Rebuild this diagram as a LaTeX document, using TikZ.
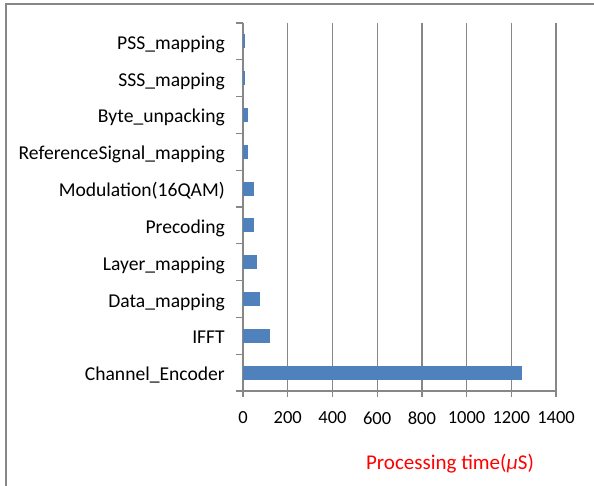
\documentclass[tikz,border=0pt]{standalone}
\usepackage{fontspec}
\setmainfont{Carlito}
\definecolor{barblue}{HTML}{4F81BD}
\definecolor{gridgray}{HTML}{878787}
\tikzset{
  catlabel/.style={anchor=base east,inner sep=0pt,font=\fontsize{19.6}{21}\selectfont},
  ticklabel/.style={anchor=center,inner sep=0pt,font=\fontsize{18.5}{20}\selectfont},
  gridline/.style={draw=gridgray,line width=1.3pt},
  bar/.style={fill=barblue}
}
\begin{document}
\begin{tikzpicture}[x=1pt,y=-1pt]
  \useasboundingbox (0,0) rectangle (594,486);
  % frame
  \draw[gridgray,line width=1.2pt] (594,4) -- (6,4) -- (6,486);

  % categories, top to bottom
  \node[catlabel] (pss) at (225,49.4) {PSS\_mapping};
  \node[catlabel] (sss) at (225,86.2) {SSS\_mapping};
  \node[catlabel] (byte) at (225,123) {Byte\_unpacking};
  \node[catlabel] (refsig) at (225,159.8) {ReferenceSignal\_mapping};
  \node[catlabel] (modul) at (225,196.6) {Modulation(16QAM)};
  \node[catlabel] (precod) at (225,233.4) {Precoding};
  \node[catlabel] (layer) at (225,270.2) {Layer\_mapping};
  \node[catlabel] (datamap) at (225,307) {Data\_mapping};
  \node[catlabel] (ifft) at (225,343.8) {IFFT};
  \node[catlabel] (chenc) at (225,380.6) {Channel\_Encoder};

  \begin{scope}[shift={(243,0)},x=0.2236pt]
    % grid and axes
    \foreach \v in {200,400,...,1400}
      \draw[gridline] (\v,23) -- (\v,397);
    \draw[gridline] (0,23) -- (0,397);
    \draw[gridline] (0,391) -- (1400,391);
    \foreach \k in {0,...,10}
      \draw[gridline] (-31,23+36.8*\k) -- (0,23+36.8*\k);
    \foreach \v in {0,200,...,1400}
      \node[ticklabel] (tick\v) at (\v,418) {\v};

    % bars
    \fill[bar] (0,34.4) rectangle (10,48.4);
    \fill[bar] (0,71.2) rectangle (10,85.2);
    \fill[bar] (0,108) rectangle (24,122);
    \fill[bar] (0,144.8) rectangle (24,158.8);
    \fill[bar] (0,181.6) rectangle (49,195.6);
    \fill[bar] (0,218.4) rectangle (49,232.4);
    \fill[bar] (0,255.2) rectangle (62,269.2);
    \fill[bar] (0,292) rectangle (76,306);
    \fill[bar] (0,328.8) rectangle (121,342.8);
    \fill[bar] (0,365.6) rectangle (1247,379.6);
  \end{scope}

  \node[anchor=base,inner sep=0pt,text=red,font=\fontsize{21}{23}\selectfont]
    (xtitle) at (450,469) {Processing time(\textit{μ}S)};
\end{tikzpicture}
\end{document}
